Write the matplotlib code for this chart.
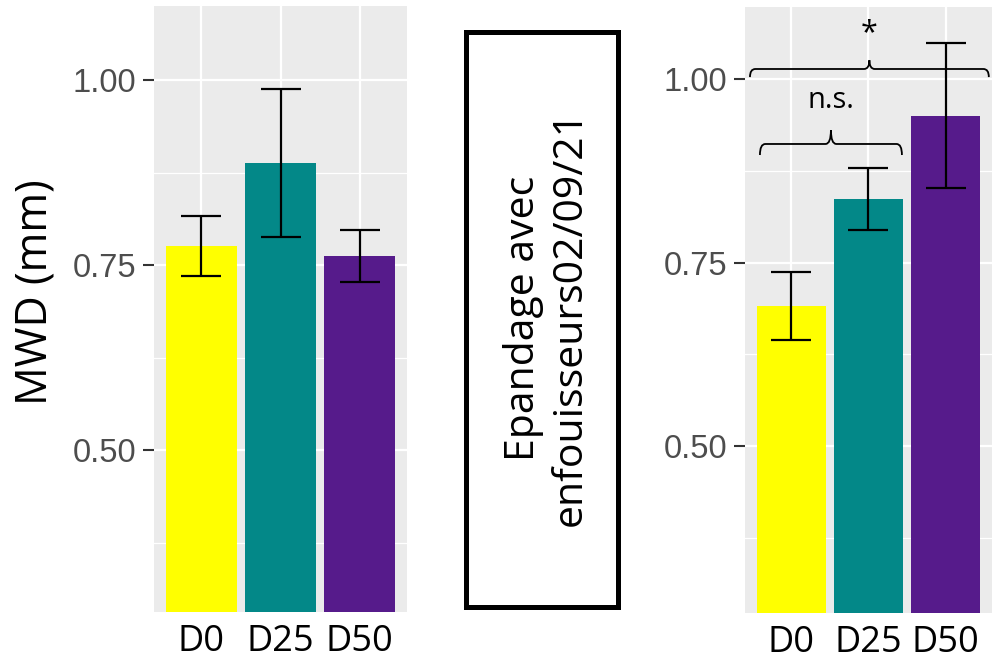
import matplotlib.pyplot as plt
from matplotlib.patches import Rectangle, PathPatch
from matplotlib.path import Path

# data
doses = ["D0", "D25", "D50"]
bar_colors = ["#FFFF00", "#038888", "#561B8B"]
left_mean = [0.776, 0.888, 0.763]
left_se = [0.041, 0.100, 0.035]
right_mean = [0.691, 0.837, 0.950]
right_se = [0.046, 0.042, 0.099]
y_major = [0.50, 0.75, 1.00]
y_minor = [0.375, 0.625, 0.875]

TEXT_FONT = ["Open Sans", "DejaVu Sans"]
TICK_FONT = ["Liberation Sans", "DejaVu Sans"]


def style_panel(ax, ylim):
    ax.set_facecolor("#EBEBEB")
    for spine in ax.spines.values():
        spine.set_visible(False)
    ax.set_xlim(0.4, 3.6)
    ax.set_ylim(*ylim)
    ax.set_yticks(y_major)
    ax.set_yticklabels([f"{v:.2f}" for v in y_major], family=TICK_FONT)
    ax.set_yticks(y_minor, minor=True)
    ax.set_xticks([1, 2, 3])
    ax.set_xticklabels(doses, family=TEXT_FONT, fontsize=26)
    ax.grid(which="major", color="white", lw=1.6)
    ax.grid(which="minor", axis="y", color="white", lw=0.9)
    ax.set_axisbelow(True)
    ax.tick_params(axis="y", which="major", length=8, width=1.5, color="#333333",
                   labelsize=23.5, labelcolor="#4D4D4D", pad=5)
    ax.tick_params(axis="y", which="minor", length=0)
    ax.tick_params(axis="x", length=0, pad=9, labelcolor="black")


def draw_bars(ax, means, ses):
    x = [1, 2, 3]
    ax.bar(x, means, width=0.9, color=bar_colors, zorder=2)
    ax.errorbar(x, means, yerr=ses, fmt="none", ecolor="black", elinewidth=1.6,
                capsize=14.5, capthick=1.6, zorder=3)


def draw_brace(ax, x0, x1, y, drop, tip, r=0.07):
    xm = (x0 + x1) / 2
    verts = [
        (x0, y - drop), (x0, y), (x0 + r, y),
        (xm - r, y), (xm, y), (xm, y + tip),
        (xm, y), (xm + r, y),
        (x1 - r, y), (x1, y), (x1, y - drop),
    ]
    codes = [
        Path.MOVETO, Path.CURVE3, Path.CURVE3,
        Path.LINETO, Path.CURVE3, Path.CURVE3,
        Path.CURVE3, Path.CURVE3,
        Path.LINETO, Path.CURVE3, Path.CURVE3,
    ]
    ax.add_patch(PathPatch(Path(verts, codes), fill=False, lw=1.3, color="black",
                           clip_on=False, zorder=4))


fig = plt.figure(figsize=(9.99, 6.67), dpi=100)

ax_left = fig.add_axes([0.1542, 0.0825, 0.2533, 0.9085])
style_panel(ax_left, (0.282, 1.100))
draw_bars(ax_left, left_mean, left_se)

ax_right = fig.add_axes([0.7457, 0.0810, 0.2472, 0.9085])
style_panel(ax_right, (0.273, 1.098))
draw_bars(ax_right, right_mean, right_se)

# significance brackets
draw_brace(ax_right, 0.465, 3.56, 1.0136, 0.011, 0.012)
ax_right.text(2.01, 1.062, "*", ha="center", va="center", fontsize=22,
              family=TEXT_FONT)
draw_brace(ax_right, 0.594, 2.434, 0.9115, 0.015, 0.019)
ax_right.text(1.514, 0.9605, "n.s.", ha="center", va="baseline", fontsize=21,
              family=TEXT_FONT)

fig.text(35 / 999, 1 - 292 / 667, "MWD (mm)", rotation=90, ha="center",
         va="center", fontsize=31, family=TEXT_FONT)

# middle label box
fig.patches.append(Rectangle((466 / 999, 1 - 607 / 667), 152 / 999, 575 / 667,
                             transform=fig.transFigure, fill=False, lw=3.6,
                             edgecolor="black"))
fig.text(547 / 999, 1 - 318 / 667, "Epandage avec\nenfouisseurs02/09/21",
         rotation=90, ha="center", va="center", multialignment="center",
         fontsize=29.5, family=TEXT_FONT, linespacing=1.2)

fig.savefig("out.png", dpi=100)
